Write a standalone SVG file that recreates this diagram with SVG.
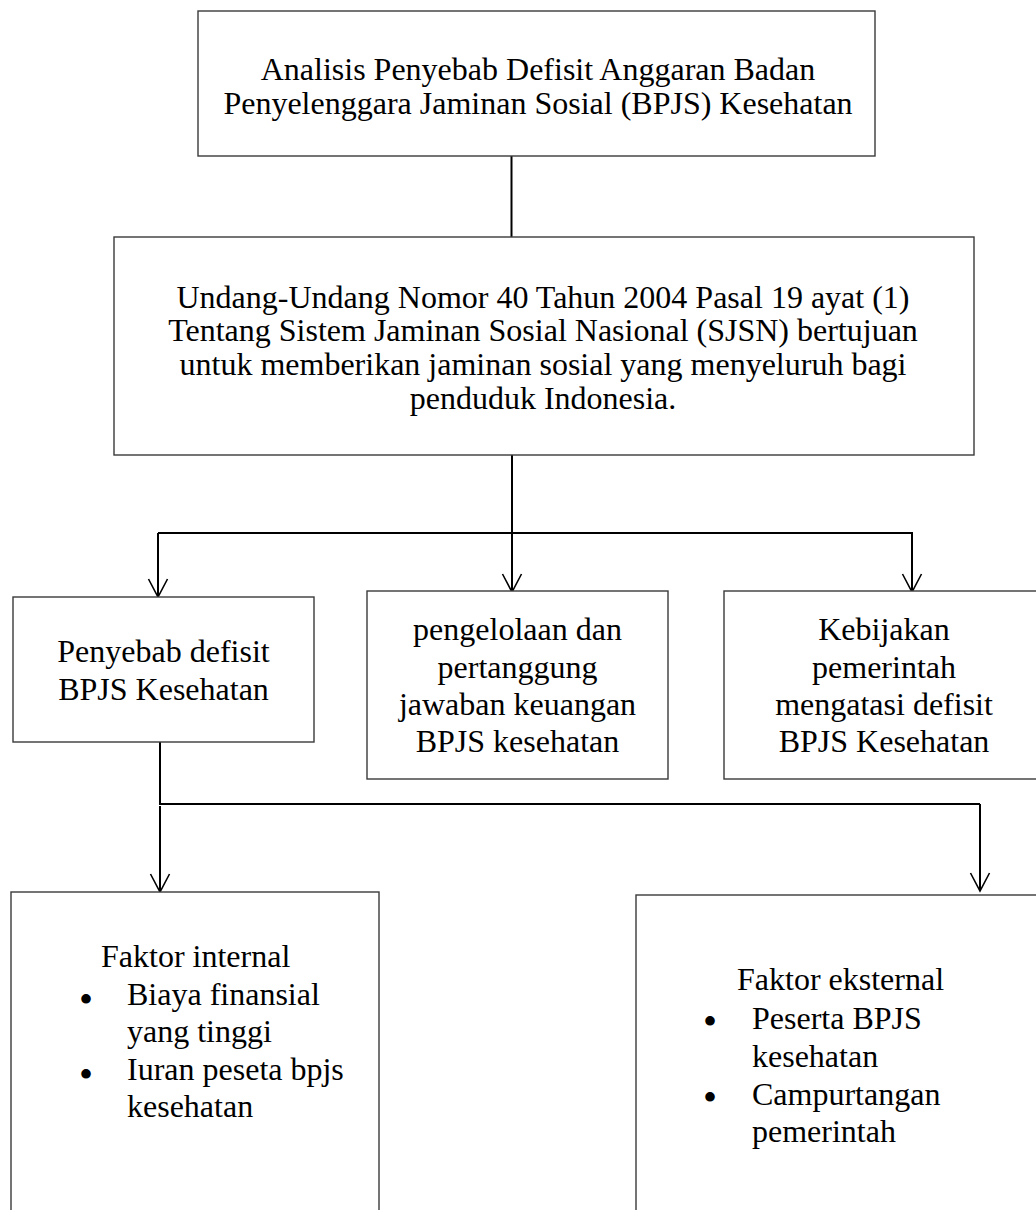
<svg xmlns="http://www.w3.org/2000/svg" width="1036" height="1210" viewBox="0 0 1036 1210">
<style>
.box{fill:#fff;stroke:#3a3a3a;stroke-width:1.4}
.t{font-family:"Liberation Serif","Times New Roman",serif;font-size:32px;fill:#000}
.c{text-anchor:middle}
.b{font-size:40px}
.con{fill:none;stroke:#000;stroke-width:2}
</style>
<defs>
<marker id="arr" markerUnits="userSpaceOnUse" markerWidth="24" markerHeight="24" viewBox="-20 -12 24 24" refX="0" refY="0" orient="auto" overflow="visible">
<path d="M-18,-9.5 L0,0 L-18,9.5" fill="none" stroke="#000" stroke-width="1.6"/>
</marker>
</defs>
<rect width="1036" height="1210" fill="#fff"/>
<g id="connectors">
<path class="con" d="M511.5 156 V237" stroke-width="1.6"/>
<path class="con" d="M512 436 V592" marker-end="url(#arr)"/>
<path class="con" d="M158 533 H913"/>
<path class="con" d="M158 533 V597" marker-end="url(#arr)"/>
<path class="con" d="M912 533 V592" marker-end="url(#arr)"/>
<path class="con" d="M160 742 V804 H980"/>
<path class="con" d="M160 806 V892" marker-end="url(#arr)"/>
<path class="con" d="M980 804 V891" marker-end="url(#arr)"/>
</g>
<g id="n-title">
<rect class="box" x="198" y="11" width="677" height="145"/>
<text class="t c" x="538" y="80">Analisis Penyebab Defisit Anggaran Badan</text>
<text class="t c" x="538" y="114">Penyelenggara Jaminan Sosial (BPJS) Kesehatan</text>
</g>
<g id="n-uu">
<rect class="box" x="114" y="237" width="860" height="218"/>
<text class="t c" x="543" y="307.5">Undang-Undang Nomor 40 Tahun 2004 Pasal 19 ayat (1)</text>
<text class="t c" x="543" y="341.2">Tentang Sistem Jaminan Sosial Nasional (SJSN) bertujuan</text>
<text class="t c" x="543" y="374.8">untuk memberikan jaminan sosial yang menyeluruh bagi</text>
<text class="t c" x="543" y="408.5">penduduk Indonesia.</text>
</g>
<g id="n-penyebab">
<rect class="box" x="13" y="597" width="301" height="145"/>
<text class="t c" x="163.5" y="662">Penyebab defisit</text>
<text class="t c" x="163.5" y="700">BPJS Kesehatan</text>
</g>
<g id="n-pengelolaan">
<rect class="box" x="367" y="591" width="301" height="188"/>
<text class="t c" x="517.5" y="640">pengelolaan dan</text>
<text class="t c" x="517.5" y="677.5">pertanggung</text>
<text class="t c" x="517.5" y="715">jawaban keuangan</text>
<text class="t c" x="517.5" y="752">BPJS kesehatan</text>
</g>
<g id="n-kebijakan">
<rect class="box" x="724" y="591" width="320" height="188"/>
<text class="t c" x="884" y="640">Kebijakan</text>
<text class="t c" x="884" y="677.5">pemerintah</text>
<text class="t c" x="884" y="715">mengatasi defisit</text>
<text class="t c" x="884" y="752">BPJS Kesehatan</text>
</g>
<g id="n-internal">
<rect class="box" x="11" y="892" width="368" height="340"/>
<text class="t" x="101" y="967">Faktor internal</text>
<text class="t c b" x="86" y="1013">•</text>
<text class="t" x="127" y="1005">Biaya finansial</text>
<text class="t" x="127" y="1042">yang tinggi</text>
<text class="t c b" x="86" y="1088">•</text>
<text class="t" x="127" y="1080">Iuran peseta bpjs</text>
<text class="t" x="127" y="1117">kesehatan</text>
</g>
<g id="n-eksternal">
<rect class="box" x="636" y="895" width="424" height="340"/>
<text class="t" x="737" y="990">Faktor eksternal</text>
<text class="t c b" x="710" y="1035">•</text>
<text class="t" x="752" y="1029">Peserta BPJS</text>
<text class="t" x="752" y="1067">kesehatan</text>
<text class="t c b" x="710" y="1111">•</text>
<text class="t" x="752" y="1105">Campurtangan</text>
<text class="t" x="752" y="1142">pemerintah</text>
</g>
</svg>
